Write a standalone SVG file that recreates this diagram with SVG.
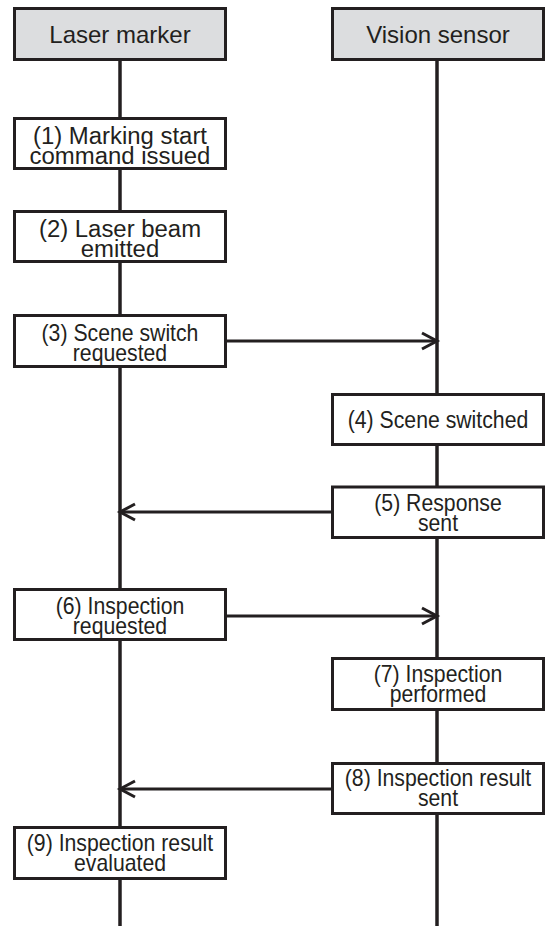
<svg xmlns="http://www.w3.org/2000/svg" width="548" height="926" viewBox="0 0 548 926">
  <style>
    .hdr { fill: #dcdddf; stroke: #231f20; stroke-width: 3; }
    .box { fill: #ffffff; stroke: #231f20; stroke-width: 3; }
    .life { stroke: #231f20; stroke-width: 3.5; fill: none; }
    .msg { stroke: #231f20; stroke-width: 3; fill: none; }
    text { font-family: "Liberation Sans", Arial, Helvetica, sans-serif; font-size: 24px; fill: #231f20; text-anchor: middle; }
    .s { font-size: 23px; }
  </style>
  <defs>
    <marker id="chev" viewBox="0 0 20 20" markerUnits="userSpaceOnUse" markerWidth="20" markerHeight="20" refX="17" refY="9" orient="auto" overflow="visible">
      <path d="M2,1 L17,9 L2,17" fill="none" stroke="#231f20" stroke-width="3" stroke-linejoin="miter"/>
    </marker>
  </defs>

  <g id="connectors">
    <line class="life" x1="120" y1="61" x2="120" y2="926"/>
    <line class="life" x1="437" y1="61" x2="437" y2="926"/>
    <line class="msg" x1="227" y1="341" x2="437" y2="341" marker-end="url(#chev)"/>
    <line class="msg" x1="331" y1="512" x2="120" y2="512" marker-end="url(#chev)"/>
    <line class="msg" x1="227" y1="616" x2="437" y2="616" marker-end="url(#chev)"/>
    <line class="msg" x1="331" y1="789" x2="120" y2="789" marker-end="url(#chev)"/>
  </g>

  <g id="laser-marker">
    <rect class="hdr" x="14.5" y="8.5" width="211" height="51"/>
    <text x="120" y="43">Laser marker</text>
  </g>
  <g id="vision-sensor">
    <rect class="hdr" x="332.5" y="8.5" width="211" height="51"/>
    <text x="438" y="43">Vision sensor</text>
  </g>

  <g id="step1">
    <rect class="box" x="14.5" y="118.5" width="211" height="50"/>
    <g transform="translate(120 0) scale(1.04 1) translate(-120 0)">
      <text class="s" x="120" y="144">(1) Marking start</text>
      <text class="s" x="120" y="164">command issued</text>
    </g>
  </g>
  <g id="step2">
    <rect class="box" x="14.5" y="211.5" width="211" height="50"/>
    <g transform="translate(120 0) scale(1.04 1) translate(-120 0)">
      <text class="s" x="120" y="237">(2) Laser beam</text>
      <text class="s" x="120" y="257">emitted</text>
    </g>
  </g>
  <g id="step3">
    <rect class="box" x="14.5" y="315.5" width="211" height="51"/>
    <g transform="translate(120 0) scale(0.923 1) translate(-120 0)">
      <text class="s" x="120" y="341">(3) Scene switch</text>
      <text class="s" x="120" y="361">requested</text>
    </g>
  </g>
  <g id="step4">
    <rect class="box" x="332.5" y="394.5" width="211" height="50"/>
    <g transform="translate(438 0) scale(0.885 1) translate(-438 0)">
      <text x="438" y="428">(4) Scene switched</text>
    </g>
  </g>
  <g id="step5">
    <rect class="box" x="332.5" y="487" width="211" height="50.5"/>
    <g transform="translate(438 0) scale(0.923 1) translate(-438 0)">
      <text class="s" x="438" y="511">(5) Response</text>
      <text class="s" x="438" y="531">sent</text>
    </g>
  </g>
  <g id="step6">
    <rect class="box" x="14.5" y="589.5" width="211" height="50"/>
    <g transform="translate(120 0) scale(0.923 1) translate(-120 0)">
      <text class="s" x="120" y="614">(6) Inspection</text>
      <text class="s" x="120" y="634">requested</text>
    </g>
  </g>
  <g id="step7">
    <rect class="box" x="332.5" y="658.5" width="211" height="51"/>
    <g transform="translate(438 0) scale(0.923 1) translate(-438 0)">
      <text class="s" x="438" y="682">(7) Inspection</text>
      <text class="s" x="438" y="702">performed</text>
    </g>
  </g>
  <g id="step8">
    <rect class="box" x="332.5" y="763.5" width="211" height="50"/>
    <g transform="translate(438 0) scale(0.923 1) translate(-438 0)">
      <text class="s" x="438" y="786">(8) Inspection result</text>
      <text class="s" x="438" y="806">sent</text>
    </g>
  </g>
  <g id="step9">
    <rect class="box" x="14.5" y="827.5" width="211" height="51"/>
    <g transform="translate(120 0) scale(0.923 1) translate(-120 0)">
      <text class="s" x="120" y="851">(9) Inspection result</text>
      <text class="s" x="120" y="871">evaluated</text>
    </g>
  </g>
</svg>
